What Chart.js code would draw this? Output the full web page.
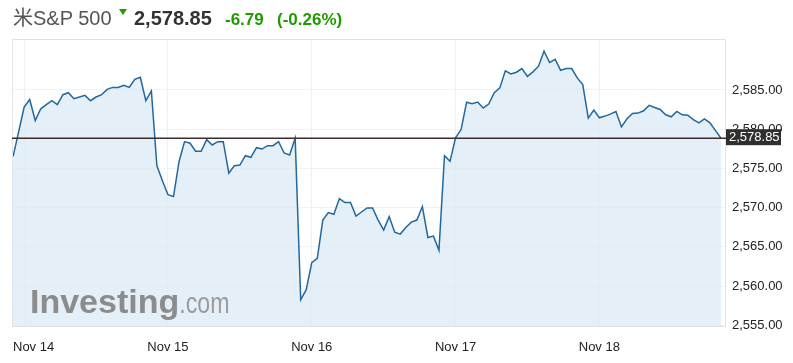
<!DOCTYPE html>
<html lang="en">

<head>
    <meta charset="UTF-8">
    <title>S&P 500</title>
    <style>
        body { margin: 0; background: #fff; font-family: "Liberation Sans", Arial, "Noto Sans CJK SC", sans-serif; }
        #wrap { position: relative; width: 793px; height: 363px; }
        #hdr span { position: absolute; line-height: 1; white-space: nowrap; }
        .up { color: #229a00; font-weight: bold; font-size: 17px; top: 11px; }
        #tri { position: absolute; left: 119px; top: 9px; width: 0; height: 0;
               border-left: 4px solid transparent; border-right: 4px solid transparent; border-top: 6px solid #229a00; }
    </style>
</head>

<body>
    <div id="wrap">
        <canvas id="spx" width="793" height="363"></canvas>
        <div id="hdr">
            <span style="left:13px; top:8px; font-size:20px; color:#555;">米S&amp;P 500</span>
            <div id="tri"></div>
            <span style="left:134px; top:8px; font-size:20px; font-weight:bold; color:#333;">2,578.85</span>
            <span class="up" style="left:225px;">-6.79</span>
            <span class="up" style="left:277px;">(-0.26%)</span>
        </div>
    </div>

    <script src="https://cdn.jsdelivr.net/npm/chart.js"></script>
    <script>

        // day labels and the bar index where each one sits
        const dayLabels = ['Nov 14', 'Nov 15', 'Nov 16', 'Nov 17', 'Nov 18'];
        const dayIdx = [2, 28, 54, 80, 106];
        const yTicks = [2555, 2560, 2565, 2570, 2575, 2580, 2585];
        const lastPrice = 2578.85;

        // 15 minute closes
        const closes = [
            2576.54, 2579.65, 2582.82, 2583.79, 2581.10, 2582.60, 2583.12, 2583.63, 2583.12, 2584.40,
            2584.65, 2583.88, 2584.10, 2584.31, 2583.63, 2584.10, 2584.40, 2585.08, 2585.33, 2585.33,
            2585.59, 2585.33, 2586.36, 2586.62, 2583.63, 2584.87, 2575.33, 2573.41, 2571.64, 2571.41,
            2575.85, 2578.41, 2578.21, 2577.18, 2577.18, 2578.67, 2577.99, 2578.41, 2578.41, 2574.40,
            2575.33, 2575.42, 2576.62, 2576.41, 2577.64, 2577.47, 2577.90, 2577.90, 2578.41, 2576.96,
            2576.71, 2578.85, 2558.24, 2559.53, 2562.99, 2563.54, 2568.41, 2569.36, 2569.14, 2571.15,
            2570.64, 2570.64, 2568.92, 2569.44, 2569.95, 2569.95, 2568.41, 2567.13, 2568.85, 2566.87,
            2566.62, 2567.47, 2568.15, 2568.41, 2570.13, 2566.19, 2566.36, 2564.56, 2576.62, 2575.90,
            2578.91, 2579.95, 2583.44, 2583.24, 2583.46, 2582.69, 2583.21, 2584.65, 2585.26, 2587.44,
            2587.05, 2587.26, 2587.73, 2586.74, 2587.31, 2588.03, 2589.95, 2588.50, 2588.92, 2587.51,
            2587.73, 2587.73, 2586.54, 2585.68, 2581.41, 2582.44, 2581.45, 2581.67, 2581.92, 2582.26,
            2580.29, 2581.32, 2582.00, 2582.05, 2582.35, 2583.03, 2582.77, 2582.51, 2581.83, 2581.58,
            2582.26, 2581.83, 2581.79, 2581.23, 2580.81, 2581.32, 2580.81, 2579.82, 2578.85
        ];

        const fmt = v => v.toLocaleString('en-US', { minimumFractionDigits: 2, maximumFractionDigits: 2 });

        // watermark, frame, last price line, x labels and price tag
        const extras = {
            id: 'extras',
            afterDatasetsDraw(chart) {
                const { ctx, chartArea: a, scales } = chart;
                ctx.save();
                ctx.fillStyle = '#8c8c8c';
                ctx.font = 'bold 34px "Liberation Sans", Arial';
                ctx.textBaseline = 'alphabetic';
                ctx.fillText('Investing', 30, 313);
                const w = ctx.measureText('Investing').width;
                ctx.fillStyle = '#9c9c9c';
                ctx.font = '29px "Liberation Sans", Arial';
                ctx.translate(30 + w, 313);
                ctx.scale(0.8, 1);
                ctx.fillText('.com', 0, 0);
                ctx.restore();

                ctx.save();
                ctx.strokeStyle = '#e2e2e2';
                ctx.lineWidth = 1;
                ctx.strokeRect(a.left + 0.5, a.top + 0.5, a.right - a.left - 1, a.bottom - a.top);
                const y = scales.y.getPixelForValue(lastPrice);
                ctx.strokeStyle = '#3d2c2c';
                ctx.lineWidth = 1.5;
                ctx.beginPath();
                ctx.moveTo(a.left, y);
                ctx.lineTo(a.right, y);
                ctx.stroke();
                ctx.restore();
            },
            afterDraw(chart) {
                const { ctx, chartArea: a, scales } = chart;
                ctx.save();
                ctx.font = '13px "Liberation Sans", Arial';
                ctx.fillStyle = '#222';
                ctx.textBaseline = 'middle';
                dayLabels.forEach((d, i) => {
                    const x = scales.x.getPixelForValue(dayIdx[i]);
                    const w = ctx.measureText(d).width;
                    ctx.fillText(d, Math.max(a.left + 1, x - w / 2), 347);
                });
                const y = scales.y.getPixelForValue(lastPrice);
                ctx.fillStyle = '#2f2f2f';
                ctx.fillRect(a.right, y - 9, 55, 16);
                ctx.fillStyle = '#fff';
                ctx.fillText(fmt(lastPrice), a.right + 3, y - 1);
                ctx.restore();
            }
        };

        const config = {
            type: 'line',
            data: {
                datasets: [{
                    data: closes.map((v, i) => ({ x: i, y: v })),
                    borderColor: '#21689f',
                    borderWidth: 1.5,
                    backgroundColor: 'rgba(218,232,243,0.7)',
                    fill: 'start',
                    pointRadius: 0,
                    tension: 0
                }]
            },
            options: {
                responsive: false,
                animation: false,
                layout: { padding: { left: 12, top: 39, right: 0, bottom: 0 } },
                plugins: { legend: { display: false }, tooltip: { enabled: false } },
                scales: {
                    x: {
                        type: 'linear',
                        min: -0.2,
                        max: 128.9,
                        afterBuildTicks: s => { s.ticks = dayIdx.map(v => ({ value: v })); },
                        afterFit: s => { s.height = 37; },
                        ticks: { display: false },
                        grid: { color: '#eef0f3', drawTicks: false },
                        border: { display: false }
                    },
                    y: {
                        position: 'right',
                        min: 2554.9,
                        max: 2591.5,
                        afterBuildTicks: s => { s.ticks = yTicks.map(v => ({ value: v })); },
                        afterFit: s => { s.width = 67; },
                        ticks: {
                            padding: 6,
                            color: '#222',
                            font: { family: '"Liberation Sans", Arial', size: 13 },
                            callback: v => fmt(v)
                        },
                        grid: { color: '#f1f2f4', drawTicks: false },
                        border: { display: false }
                    }
                }
            },
            plugins: [extras]
        };

        const chart = new Chart(document.getElementById('spx'), config);

    </script>
</body>

</html>
